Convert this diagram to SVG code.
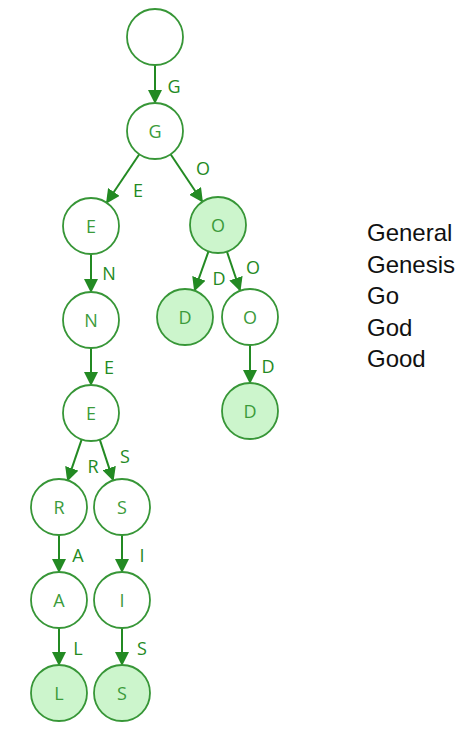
<svg xmlns="http://www.w3.org/2000/svg" width="471" height="730" viewBox="0 0 471 730">
<style>
.n{fill:#ffffff;stroke:#379637;stroke-width:1.8}
.leaf{fill:#ccf5cc}
.t{font-family:"Open Sans","Liberation Sans",Arial,sans-serif;font-size:18px;fill:#3b9b3b;text-anchor:middle;dominant-baseline:central}
.e{stroke:#238a23;stroke-width:2;fill:none;marker-end:url(#ah)}
.el{font-family:"Open Sans","Liberation Sans",Arial,sans-serif;font-size:18px;fill:#238a23;text-anchor:middle;dominant-baseline:central}
.w{font-family:"Liberation Sans",Arial,sans-serif;font-size:24px;fill:#111111}
</style>
<defs>
<marker id="ah" markerUnits="userSpaceOnUse" markerWidth="14" markerHeight="14" viewBox="0 0 14 14" refX="13" refY="7" orient="auto">
<path d="M0,0 L14,7 L0,14 Z" fill="#238a23"/>
</marker>
</defs>
<rect width="471" height="730" fill="#ffffff"/>
<g id="connectors">
<line class="e" x1="155" y1="65" x2="155" y2="103"/>
<line class="e" x1="139.3" y1="154.2" x2="106.6" y2="202.8"/>
<line class="e" x1="170.6" y1="154.3" x2="202.4" y2="201.7"/>
<line class="e" x1="91" y1="254" x2="91" y2="292"/>
<line class="e" x1="91" y1="348" x2="91" y2="385"/>
<line class="e" x1="81.7" y1="439.4" x2="67.6" y2="480.6"/>
<line class="e" x1="99.8" y1="439.6" x2="113.2" y2="480.4"/>
<line class="e" x1="59" y1="535" x2="59" y2="572"/>
<line class="e" x1="122" y1="535" x2="122" y2="572"/>
<line class="e" x1="59" y1="628" x2="59" y2="665"/>
<line class="e" x1="122" y1="628" x2="122" y2="665"/>
<line class="e" x1="208.5" y1="251.4" x2="194.5" y2="290.6"/>
<line class="e" x1="226.9" y1="251.5" x2="240.1" y2="290.5"/>
<line class="e" x1="250" y1="345" x2="250" y2="383"/>
<text class="el" x="174" y="86">G</text>
<text class="el" x="138" y="190">E</text>
<text class="el" x="203" y="168">O</text>
<text class="el" x="109" y="273">N</text>
<text class="el" x="109" y="367">E</text>
<text class="el" x="93" y="466">R</text>
<text class="el" x="125" y="456">S</text>
<text class="el" x="78" y="555">A</text>
<text class="el" x="142" y="555">I</text>
<text class="el" x="78" y="648">L</text>
<text class="el" x="142" y="648">S</text>
<text class="el" x="219" y="278">D</text>
<text class="el" x="253" y="267">O</text>
<text class="el" x="268" y="366">D</text>
</g>
<g id="root"><circle class="n" cx="155" cy="37" r="28"/></g>
<g id="nG"><circle class="n" cx="155" cy="131" r="28"/><text class="t" x="155" y="131">G</text></g>
<g id="nGE"><circle class="n" cx="91" cy="226" r="28"/><text class="t" x="91" y="226">E</text></g>
<g id="nGEN"><circle class="n" cx="91" cy="320" r="28"/><text class="t" x="91" y="320">N</text></g>
<g id="nGENE"><circle class="n" cx="91" cy="413" r="28"/><text class="t" x="91" y="413">E</text></g>
<g id="nGENER"><circle class="n" cx="59" cy="507" r="28"/><text class="t" x="59" y="507">R</text></g>
<g id="nGENES"><circle class="n" cx="122" cy="507" r="28"/><text class="t" x="122" y="507">S</text></g>
<g id="nGENERA"><circle class="n" cx="59" cy="600" r="28"/><text class="t" x="59" y="600">A</text></g>
<g id="nGENESI"><circle class="n" cx="122" cy="600" r="28"/><text class="t" x="122" y="600">I</text></g>
<g id="nGENERAL"><circle class="n leaf" cx="59" cy="693" r="28"/><text class="t" x="59" y="693">L</text></g>
<g id="nGENESIS"><circle class="n leaf" cx="122" cy="693" r="28"/><text class="t" x="122" y="693">S</text></g>
<g id="nGO"><circle class="n leaf" cx="218" cy="225" r="28"/><text class="t" x="218" y="225">O</text></g>
<g id="nGOD"><circle class="n leaf" cx="185" cy="317" r="28"/><text class="t" x="185" y="317">D</text></g>
<g id="nGOO"><circle class="n" cx="250" cy="317" r="28"/><text class="t" x="250" y="317">O</text></g>
<g id="nGOOD"><circle class="n leaf" cx="250" cy="411" r="28"/><text class="t" x="250" y="411">D</text></g>
<g id="words">
<text class="w" x="367" y="241">General</text>
<text class="w" x="367" y="273">Genesis</text>
<text class="w" x="367" y="304">Go</text>
<text class="w" x="367" y="336">God</text>
<text class="w" x="367" y="367">Good</text>
</g>
</svg>
